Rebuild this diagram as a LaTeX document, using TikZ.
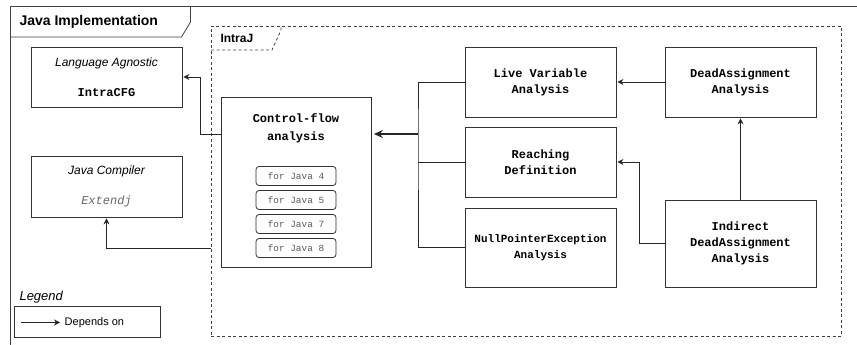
\documentclass[tikz,border=0pt]{standalone}
\usepackage{fontspec}
\usepackage{xcolor}
\usepackage{tikz}
\usetikzlibrary{arrows.meta}
\setmainfont{Liberation Sans}
\setmonofont{Liberation Mono}

\tikzset{
	box/.style={draw=black!80, line width=0.8pt, align=center, minimum width=151pt, inner sep=0pt,
		font=\ttfamily\bfseries\fontsize{12}{16}\selectfont},
	javabox/.style={draw=black!80, line width=0.8pt, rounded corners=3pt, minimum width=80pt,
		minimum height=19pt, inner sep=0pt, text=black!65, font=\ttfamily\fontsize{9.4}{11}\selectfont},
	frame/.style={draw=black!75, line width=0.8pt, dash pattern=on 3pt off 2.5pt, inner sep=0pt},
	dep/.style={-{Stealth[length=6pt,width=6pt,inset=2pt]}, line width=0.8pt, black!85, shorten >=1pt},
}

\begin{document}
\begin{tikzpicture}[x=1pt,y=-1pt]

			\useasboundingbox (0,0) rectangle (857,345);

			\def \bx {418};
			\def \by {134};

			% outer frame and its tab
			\draw[black!75, line width=0.8pt] (10.5,345) -- (10.5,6.5) -- (857,6.5);
			\draw[black!75, line width=0.8pt] (10.5,37) -- (181.5,37) -- (190.5,22) -- (190.5,6.5);
			\node at (16,22) [anchor=west, font=\bfseries\fontsize{14}{16}\selectfont] (javaimpl) {Java Implementation};

			% IntraJ frame and its tab
			\node[frame, minimum width=630pt, minimum height=310pt] (intraj) at (526,181) {};
			\draw[frame] (211,50) -- (272,50) -- (281,30) -- (281,26);
			\node at (217,38) [anchor=west, font=\bfseries\fontsize{12}{14}\selectfont] (intrajname) {IntraJ};

			% left column
			\node[box, minimum height=60pt] (lang) at (106.5,77)
				{{\normalfont\itshape Language Agnostic}\\[14pt]IntraCFG};
			\node[box, minimum height=61pt] (jc) at (106.5,186.5)
				{{\normalfont\itshape Java Compiler}\\[14pt]{\mdseries\itshape\color{black!60}Extendj}};

			% control flow box
			\node[box, minimum width=150pt, minimum height=170pt] (cfa) at (296,182) {};
			\node at (296,128) [align=center, font=\ttfamily\bfseries\fontsize{12}{18}\selectfont] (cfaname) {Control-flow\\analysis};
			\foreach \v [count=\i] in {4,5,7,8} {
			    \node[javabox] (java\v) at (296,{152+24*\i}) {for Java \v};
			}

			% analyses
			\node[box, minimum height=70pt] (lv) at (540.5,82) {Live Variable\\Analysis};
			\node[box, minimum height=70pt] (rd) at (540.5,162) {Reaching\\Definition};
			\node[box, minimum height=79pt, font=\ttfamily\bfseries\fontsize{11}{15.5}\selectfont] (np) at (540.5,247.5)
				{NullPointerException\\Analysis};
			\node[box, minimum height=70pt] (da) at (740.5,82) {DeadAssignment\\Analysis};
			\node[box, minimum height=87pt] (ida) at (740.5,243.5) {Indirect\\DeadAssignment\\Analysis};

			% dependencies
			\coordinate (bus) at (\bx,\by);
			\draw[black!85, line width=0.8pt] (lv.west) -| (bus) |- (np.west);
			\draw[black!85, line width=0.8pt] (rd.west) -- (rd.west -| bus);
			\draw[dep, -{Stealth[length=9pt,width=8pt,inset=3pt]}, line width=1.5pt, shorten >=2.5pt] (bus) -- (cfa.east |- bus);
			\draw[dep] (da) -- (lv);
			\draw[dep] (ida) -- (da);
			\draw[dep] (ida.west) -- ++(-25,0) |- (rd.east);
			\draw[dep] (cfa.west |- bus) -- ++(-20,0) |- (lang.east);
			\draw[dep] (intraj.west |- java8) -| (jc.south);

			% legend
			\node at (16,297) [anchor=west, font=\itshape\fontsize{13}{15}\selectfont] (legendname) {Legend};
			\node[draw=black!80, line width=0.8pt, minimum width=146pt, minimum height=31pt] (legend) at (87,321.5) {};
			\coordinate (legarrow) at (21,322.5);
			\draw[dep] (legarrow) -- ++(40,0) node[anchor=west, black, font=\fontsize{11}{13}\selectfont] (legendtext) {Depends on};
			\end{tikzpicture}
\end{document}
